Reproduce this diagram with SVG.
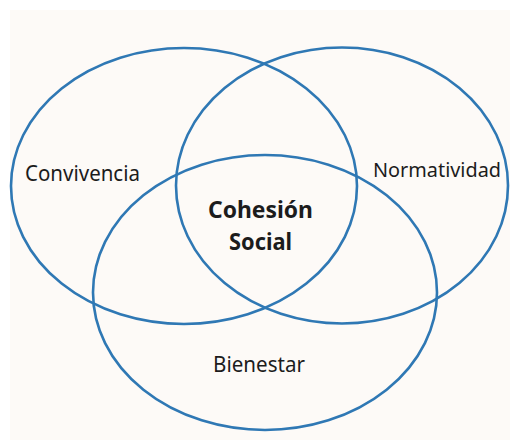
<svg xmlns="http://www.w3.org/2000/svg" width="510" height="440" viewBox="0 0 510 440">
<style>
.e{fill:none;stroke:#2f78b4;stroke-width:2.6}
.t{font-family:"Noto Sans","Open Sans",sans-serif;font-size:22px;fill:#1c1c1c;text-anchor:middle}
.b{font-weight:bold;font-size:24px}
</style>
<rect width="510" height="440" fill="#ffffff"/>
<rect x="10" y="10" width="500" height="430" fill="#fdfaf7"/>
<g id="convivencia">
<ellipse class="e" cx="184" cy="186" rx="173" ry="138"/>
<text class="t" x="82.5" y="180.5" textLength="115" lengthAdjust="spacingAndGlyphs">Convivencia</text>
</g>
<g id="normatividad">
<ellipse class="e" cx="342" cy="185.5" rx="166" ry="138"/>
<text class="t" x="437" y="177" style="font-size:20.5px" textLength="128" lengthAdjust="spacingAndGlyphs">Normatividad</text>
</g>
<g id="bienestar">
<ellipse class="e" cx="265" cy="292.5" rx="172" ry="137.5"/>
<text class="t" x="259" y="372" textLength="92" lengthAdjust="spacingAndGlyphs">Bienestar</text>
</g>
<g id="cohesion">
<text class="t b" x="260.5" y="218" textLength="105" lengthAdjust="spacingAndGlyphs">Cohesión</text>
<text class="t b" x="260.5" y="250" textLength="63" lengthAdjust="spacingAndGlyphs">Social</text>
</g>
<g id="connectors"></g>
</svg>
